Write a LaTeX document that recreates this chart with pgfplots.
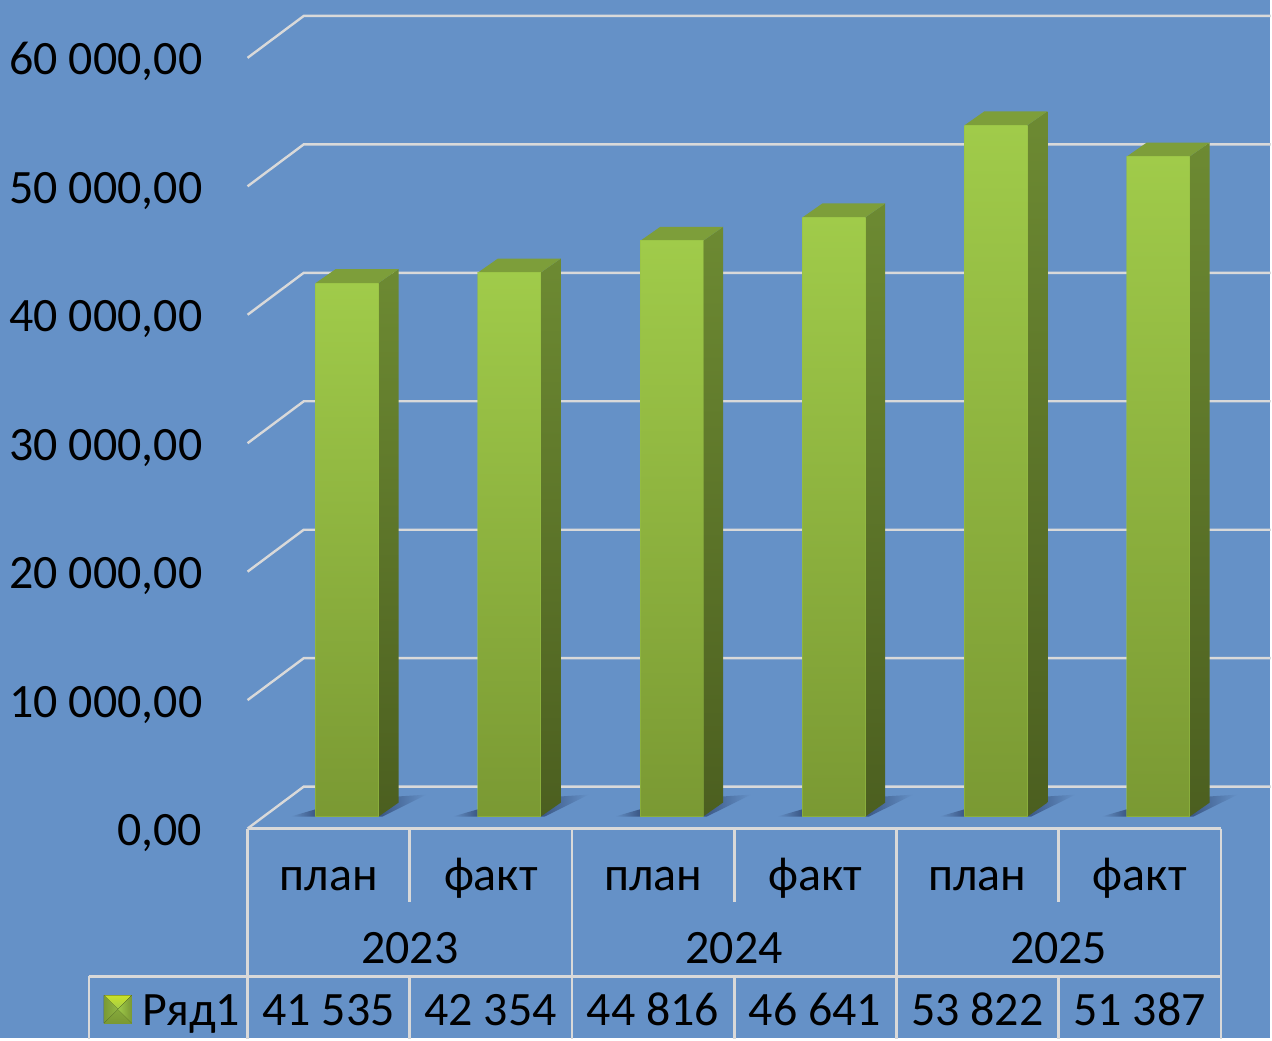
\documentclass[border=0pt]{standalone}
\usepackage{fontspec}
\setmainfont{Carlito}
\usepackage{pgfplots}
\usepackage{pgfplotstable}
\pgfplotsset{compat=1.18}

\definecolor{bgblue}{HTML}{6591C7}
\definecolor{gridgrey}{HTML}{D9D9D9}
\definecolor{shadowblue}{HTML}{3A5684}
\definecolor{bartop}{HTML}{A0CB4A}
\definecolor{barlow}{HTML}{7A9933}

% vertices of the bar faces: x offset (a), share of the value (b), y offset (c)
\pgfplotstableread{
a b c
0 0 933
1 0 933
1 1 933
0 1 933
}\frontface
\pgfplotstableread{
a b c
1 0 933
1.3175 0 2021
1.3175 1 2021
1 1 933
}\sideface
\pgfplotstableread{
a b c
0 1 933
1 1 933
1.3175 1 2021
0.3175 1 2021
}\topface
\pgfplotstableread{
a b c
-0.4 0 933
0 0 1500
0 0 933
}\shadowleft
\pgfplotstableread{
a b c
1 0 933
1.3175 0 2500
1.76 0 2640
1.06 0 933
}\shadowright
\pgfplotstableread{
x c
-0.5 0
-0.1538 3264
5.8077 3264
}\gridpts

% one 3D bar: #1 category position, #2 value, #3 top shade, #4 bottom shade
\newcommand\threedbar[4]{
  \addplot[draw=none, left color=bgblue, middle color=shadowblue!60!bgblue, right color=shadowblue]
    table[x expr=#1-0.08+0.3877*\thisrow{a}, y expr=\thisrow{c}] {\shadowleft} -- cycle;
  \addplot[draw=none, left color=shadowblue, middle color=shadowblue, right color=bgblue]
    table[x expr=#1-0.08+0.3877*\thisrow{a}, y expr=\thisrow{c}] {\shadowright} -- cycle;
  \addplot[draw=none, top color=#3!68!black, bottom color=#4!62!black]
    table[x expr=#1-0.08+0.3877*\thisrow{a}, y expr=#2*\thisrow{b}+\thisrow{c}] {\sideface} -- cycle;
  \addplot[draw=none, fill=#3!78!black]
    table[x expr=#1-0.08+0.3877*\thisrow{a}, y expr=#2*\thisrow{b}+\thisrow{c}] {\topface} -- cycle;
  \addplot[draw=#3!80!#4, draw opacity=0.5, line width=0.5pt, top color=#3, bottom color=#4]
    table[x expr=#1-0.08+0.3877*\thisrow{a}, y expr=#2*\thisrow{b}+\thisrow{c}] {\frontface} -- cycle;
}

\begin{document}
\begin{tikzpicture}[every node/.append style={font=\fontsize{24}{28}\selectfont, inner sep=0pt}]
  % pixel frame of the reference: 1 px = 0.5 pt, origin at the front left of the floor
  \begin{scope}[x=0.5pt, y=-0.5pt, shift={(-247,-829)}]
    \fill[bgblue] (-1,-1) rectangle (1271,1039);
    \useasboundingbox (-1,-1) rectangle (1271,1039);
  \end{scope}

  \begin{axis}[
      at={(0,0)}, anchor=south west,
      scale only axis,
      width=512.5pt, height=414.5pt,
      xmin=-0.5, xmax=5.8077,
      ymin=0, ymax=64428,
      clip=false,
      axis line style={draw=none},
      tick style={draw=none},
      xtick={0,1,2,3,4,5},
      xticklabels={план,факт,план,факт,план,факт},
      xticklabel style={anchor=base, yshift=-31pt},
      ytick={0,10000,20000,30000,40000,50000,60000},
      yticklabel style={anchor=base east, xshift=-22.5pt, yshift=-8.5pt,
        /pgf/number format/.cd, assume math mode=true, fixed, fixed zerofill,
        precision=2, 1000 sep={\ }, dec sep={,}},
      scaled y ticks=false,
      tick label style={font=\fontsize{24}{28}\selectfont},
    ]
    \pgfplotsinvokeforeach{0,10000,20000,30000,40000,50000,60000}{
      \addplot[gridgrey, line width=1.2pt]
        table[x=x, y expr=#1+\thisrow{c}] {\gridpts};
    }
    \threedbar{0}{41535}{bartop}{barlow}
    \threedbar{1}{42354}{bartop}{barlow}
    \threedbar{2}{44816}{bartop}{barlow}
    \threedbar{3}{46641}{bartop}{barlow}
    \threedbar{4}{53822}{bartop}{barlow}
    \threedbar{5}{51387}{bartop}{barlow}
  \end{axis}

  % data table under the chart
  \begin{scope}[x=0.5pt, y=-0.5pt, shift={(-247,-829)}]
    \begin{scope}[gridgrey, line width=1.3pt]
      \draw (247,829) -- (1222,829);
      \draw (88,977) -- (1222,977);
      \draw (88,1040) -- (88,977);
      \draw (247,829) -- (247,1040);
      \draw (572,829) -- (572,1040);
      \draw (897,829) -- (897,1040);
      \draw (1222,829) -- (1222,1040);
      \foreach \x in {409.5,734.5,1059.5} {
        \draw (\x,829) -- (\x,903);
        \draw (\x,977) -- (\x,1040);
      }
    \end{scope}
    \node[anchor=base] at (409.5,964) {2023};
    \node[anchor=base] at (734.5,964) {2024};
    \node[anchor=base] at (1059.5,964) {2025};
    \node[anchor=base] at (328,1026) {41 535};
    \node[anchor=base] at (490.5,1026) {42 354};
    \node[anchor=base] at (653,1026) {44 816};
    \node[anchor=base] at (815.5,1026) {46 641};
    \node[anchor=base] at (978,1026) {53 822};
    \node[anchor=base] at (1140.5,1026) {51 387};
    \node[anchor=base west] at (141,1026) {Ряд1};
    % legend key
    \fill[top color=bartop!90!black, bottom color=barlow] (103,996) rectangle (131,1024);
    \fill[top color=bartop!55!yellow, bottom color=bartop] (103,996) -- (131,996) -- (117,1010) -- cycle;
    \fill[left color=barlow, right color=bartop!90!black] (103,996) -- (117,1010) -- (103,1024) -- cycle;
    \fill[left color=bartop, right color=barlow] (131,996) -- (117,1010) -- (131,1024) -- cycle;
  \end{scope}
\end{tikzpicture}
\end{document}
